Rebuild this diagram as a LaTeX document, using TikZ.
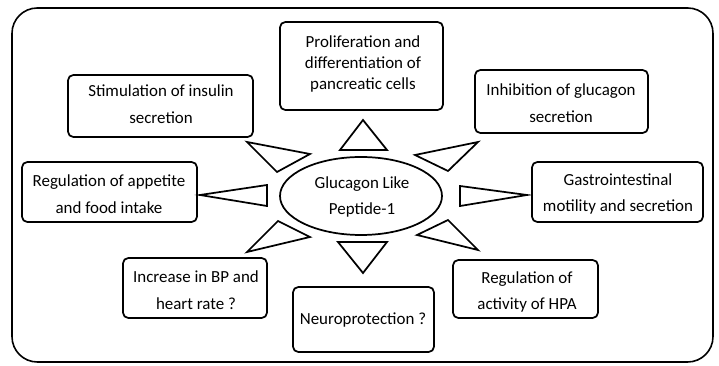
\documentclass[tikz,border=0pt]{standalone}
\usepackage{fontspec}
\setmainfont{Carlito}
\begin{document}
\begin{tikzpicture}[x=0.75pt,y=0.75pt,yscale=-1,xscale=1,
  box/.style={line width=1.3pt, rounded corners=4pt},
  ray/.style={line width=1.3pt, line join=miter},
  label/.style={align=center, inner sep=0pt, font=\fontsize{12.7}{20}\selectfont}]

\useasboundingbox (0,0) rectangle (719,366);
\draw [line width=1.2pt, rounded corners=19pt] (12,8) rectangle (713,362);

\draw [box] (68,75) rectangle (253,137);
\draw [box] (280,22) rectangle (443,110);
\draw [box] (475,70) rectangle (648,133);
\draw [box] (22,162) rectangle (197,222);
\draw [box] (532,162) rectangle (703,222);
\draw [box] (123,258) rectangle (267,318);
\draw [box] (293,287) rectangle (434,352);
\draw [box] (453,260) rectangle (598,318);

\node [label] (insulin) at (161,104) {Stimulation of insulin\\secretion};
\node [label, font=\fontsize{12.7}{16}\selectfont] (prolif) at (363,64) {Proliferation and\\differentiation of\\pancreatic cells};
\node [label] (glucagon) at (561,103) {Inhibition of glucagon\\secretion};
\node [label] (appetite) at (109,194) {Regulation of appetite\\and food intake};
\node [label] (gastro) at (618,194) {Gastrointestinal\\motility and secretion};
\node [label] (bp) at (196,290) {Increase in BP and\\heart rate ?};
\node [label] (neuro) at (363,320) {Neuroprotection ?};
\node [label] (hpa) at (527,292) {Regulation of\\activity of HPA};

\draw [line width=1.3pt] (361,196) ellipse (81 and 39);
\node [label] (glp) at (362,197) {Glucagon Like\\Peptide-1};

\draw [ray] (340,150) -- (363,120) -- (387,150) -- cycle;
\draw [ray] (338,242) -- (363,273) -- (387,242) -- cycle;
\draw [ray] (310,154) -- (247,142) -- (277,172) -- cycle;
\draw [ray] (415,155) -- (478,142) -- (448,171) -- cycle;
\draw [ray] (267,185) -- (200,195) -- (267,206) -- cycle;
\draw [ray] (460,186) -- (527,195) -- (460,206) -- cycle;
\draw [ray] (278,221) -- (310,237) -- (247,252) -- cycle;
\draw [ray] (448,220) -- (417,235) -- (478,250) -- cycle;

\end{tikzpicture}
\end{document}
